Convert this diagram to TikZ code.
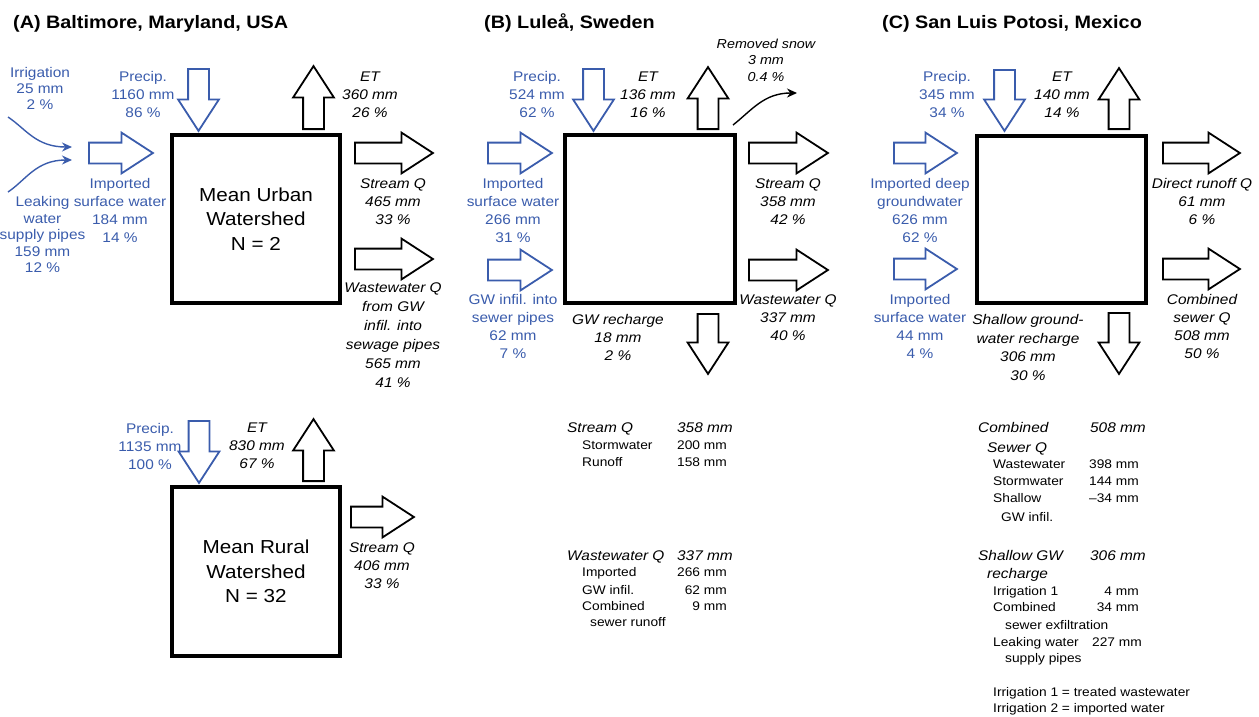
\documentclass[tikz,border=0pt]{standalone}
\usepackage{fontspec}
\setmainfont{Liberation Sans}[FakeStretch=1.1]
\usetikzlibrary{shapes.arrows,arrows.meta}
\definecolor{inblue}{RGB}{58,92,172}
\begin{document}
\begin{tikzpicture}[x=1pt,y=-1pt,
  fatarrow/.style={single arrow, draw, line width=1.8pt, inner xsep=0pt, inner ysep=9.5pt,
    single arrow head extend=10pt, anchor=tail,
    single arrow tip angle=66, line join=miter},
  inarrow/.style={fatarrow, draw=inblue},
  outarrow/.style={fatarrow, draw=black},
  downarrow/.style={shape border rotate=270, inner xsep=9.5pt, inner ysep=0pt},
  uparrow/.style={shape border rotate=90, inner xsep=9.5pt, inner ysep=0pt},
  wbox/.style={draw, line width=3.2pt, inner sep=0pt, align=center,
    font=\fontsize{18.8}{24.5}\selectfont},
  lbl/.style={align=center, inner sep=0pt, anchor=north,
    font=\fontsize{14}{18}\selectfont},
  inlbl/.style={lbl, text=inblue},
  outlbl/.style={lbl, font=\fontsize{14}{18}\selectfont\itshape},
  title/.style={inner sep=0pt, anchor=base west, font=\fontsize{18}{20}\selectfont\bfseries},
  thinarrow/.style={line width=1.4pt, -{Stealth[length=10pt,width=9pt]}},
  th/.style={inner sep=0pt, anchor=base west, font=\fontsize{14}{17}\selectfont\itshape},
  thv/.style={inner sep=0pt, anchor=base east, font=\fontsize{14}{17}\selectfont\itshape},
  tr/.style={inner sep=0pt, anchor=base west, font=\fontsize{12.5}{15}\selectfont},
  trv/.style={inner sep=0pt, anchor=base east, font=\fontsize{12.5}{15}\selectfont}
]
\useasboundingbox (0,0) rectangle (1259,716);

% ---------- titles
\node[title] (tA) at (13,28) {(A) Baltimore, Maryland, USA};
\node[title] (tB) at (484,28) {(B) Luleå, Sweden};
\node[title] (tC) at (882,28) {(C) San Luis Potosi, Mexico};

% ---------- Panel A, urban
\node[wbox, minimum width=168pt, minimum height=168pt] (urban) at (256,219) {Mean Urban\\Watershed\\N = 2};
\node[inarrow, downarrow, minimum height=62pt] (pA) at (198.5,68) {};
\node[outarrow, uparrow, minimum height=63pt] (etA) at (313.5,130) {};
\node[outarrow, minimum height=78pt] (sA) at (354,153) {};
\node[outarrow, minimum height=78pt] (wA) at (354,259) {};
\node[inarrow, minimum height=64pt] (iA) at (88,153) {};

\node[inlbl] (lpA) at (143,71.5) {Precip.\\1160 mm\\86 \%};
\node[inlbl, font=\fontsize{14}{16}\selectfont] (lirr) at (40,67.5) {Irrigation\\25 mm\\2 \%};
\node[inlbl, font=\fontsize{14}{16.5}\selectfont] (lleak) at (42.5,196.5) {Leaking\\water\\supply pipes\\159 mm\\12 \%};
\node[inlbl] (liA) at (120,178.5) {Imported\\surface water\\184 mm\\14 \%};
\node[outlbl] (letA) at (370,71.5) {ET\\360 mm\\26 \%};
\node[outlbl] (lsA) at (393,178.5) {Stream Q\\465 mm\\33 \%};
\node[outlbl, font=\fontsize{14}{19}\selectfont\itshape] (lwA) at (393,282.5) {Wastewater Q\\from GW\\infil. into\\sewage pipes\\565 mm\\41 \%};

\coordinate (irrS) at (8,117);
\coordinate (irrE) at (72,147);
\coordinate (leakS) at (8,192);
\coordinate (leakE) at (72,160);
\draw[thinarrow, inblue] (irrS) .. controls (26,129) and (36,147) .. (irrE);
\draw[thinarrow, inblue] (leakS) .. controls (26,180) and (36,160) .. (leakE);

% ---------- Panel A, rural
\node[wbox, minimum width=168pt, minimum height=169pt] (rural) at (256,571.5) {Mean Rural\\Watershed\\N = 32};
\node[inarrow, downarrow, minimum height=62pt] (pR) at (199,420) {};
\node[outarrow, uparrow, minimum height=62pt] (etR) at (313.5,482) {};
\node[outarrow, minimum height=63pt] (sR) at (350,517) {};
\node[inlbl] (lpR) at (150,423.5) {Precip.\\1135 mm\\100 \%};
\node[outlbl] (letR) at (257,422.5) {ET\\830 mm\\67 \%};
\node[outlbl] (lsR) at (382,542.5) {Stream Q\\406 mm\\33 \%};

% ---------- Panel B
\node[wbox, minimum width=170pt, minimum height=168pt] (lulea) at (650,219) {};
\node[inarrow, downarrow, minimum height=62pt] (pB) at (593.5,68) {};
\node[outarrow, uparrow, minimum height=62pt] (etB) at (708,130) {};
\node[outarrow, minimum height=79pt] (sB) at (748,153) {};
\node[outarrow, minimum height=79pt] (wB) at (748,270) {};
\node[inarrow, minimum height=64pt] (iB) at (487,153) {};
\node[inarrow, minimum height=64pt] (gB) at (487,270) {};
\node[outarrow, downarrow, minimum height=60pt] (rB) at (708,313) {};

\node[inlbl] (lpB) at (537,71.5) {Precip.\\524 mm\\62 \%};
\node[outlbl] (letB) at (648,71.5) {ET\\136 mm\\16 \%};
\node[outlbl, font=\fontsize{13}{16.5}\selectfont\itshape] (lsnow) at (766,38.5) {Removed snow\\3 mm\\0.4 \%};
\node[outlbl] (lsB) at (788,178.5) {Stream Q\\358 mm\\42 \%};
\node[outlbl] (lwB) at (788,294.5) {Wastewater Q\\337 mm\\40 \%};
\node[inlbl] (liB) at (513,178.5) {Imported\\surface water\\266 mm\\31 \%};
\node[inlbl] (lgB) at (513,294.5) {GW infil. into\\sewer pipes\\62 mm\\7 \%};
\node[outlbl] (lrB) at (618,314.5) {GW recharge\\18 mm\\2 \%};

\coordinate (snowS) at (733,125);
\coordinate (snowE) at (797,93);
\draw[thinarrow] (snowS) .. controls (752,110) and (764,93) .. (snowE);

% table B
\node[th] (b1) at (567,432) {Stream Q};
\node[thv] (b1v) at (733,432) {358 mm};
\node[tr] (b2) at (582,449.5) {Stormwater};
\node[trv] (b2v) at (727,449.5) {200 mm};
\node[tr] (b3) at (582,466.5) {Runoff};
\node[trv] (b3v) at (727,466.5) {158 mm};
\node[th] (b4) at (567,560) {Wastewater Q};
\node[thv] (b4v) at (733,560) {337 mm};
\node[tr] (b5) at (582,576.5) {Imported};
\node[trv] (b5v) at (727,576.5) {266 mm};
\node[tr] (b6) at (582,594.5) {GW infil.};
\node[trv] (b6v) at (727,594.5) {62 mm};
\node[tr] (b7) at (582,610.5) {Combined};
\node[trv] (b7v) at (727,610.5) {9 mm};
\node[tr] (b8) at (590,626.5) {sewer runoff};

% ---------- Panel C
\node[wbox, minimum width=169pt, minimum height=167pt] (slp) at (1061.5,219.5) {};
\node[inarrow, downarrow, minimum height=61pt] (pC) at (1004.5,69) {};
\node[outarrow, uparrow, minimum height=61pt] (etC) at (1119,130) {};
\node[outarrow, minimum height=77pt] (dC) at (1162,153) {};
\node[outarrow, minimum height=77pt] (cC) at (1162,269) {};
\node[inarrow, minimum height=63pt] (iC) at (893,153) {};
\node[inarrow, minimum height=63pt] (sC) at (893,269) {};
\node[outarrow, downarrow, minimum height=61pt] (rC) at (1119,312) {};

\node[inlbl] (lpC) at (947,71.5) {Precip.\\345 mm\\34 \%};
\node[outlbl] (letC) at (1062,71.5) {ET\\140 mm\\14 \%};
\node[outlbl] (ldC) at (1202,178.5) {Direct runoff Q\\61 mm\\6 \%};
\node[outlbl] (lcC) at (1202,294.5) {Combined\\sewer Q\\508 mm\\50 \%};
\node[inlbl] (liC) at (920,178.5) {Imported deep\\groundwater\\626 mm\\62 \%};
\node[inlbl] (lsC) at (920,294.5) {Imported\\surface water\\44 mm\\4 \%};
\node[outlbl, font=\fontsize{14}{18.7}\selectfont\itshape] (lrC) at (1028,314) {Shallow ground-\\water recharge\\306 mm\\30 \%};

% table C
\node[th] (c1) at (978,432) {Combined};
\node[thv] (c1v) at (1146,432) {508 mm};
\node[th] (c2) at (987,452) {Sewer Q};
\node[tr] (c3) at (993,468.5) {Wastewater};
\node[trv] (c3v) at (1139,468.5) {398 mm};
\node[tr] (c4) at (993,485) {Stormwater};
\node[trv] (c4v) at (1139,485) {144 mm};
\node[tr] (c5) at (993,502.5) {Shallow};
\node[trv] (c5v) at (1139,502.5) {–34 mm};
\node[tr] (c6) at (1001,521) {GW infil.};
\node[th] (c7) at (978,560) {Shallow GW};
\node[thv] (c7v) at (1146,560) {306 mm};
\node[th] (c8) at (987,578) {recharge};
\node[tr] (c9) at (993,595.5) {Irrigation 1};
\node[trv] (c9v) at (1139,595.5) {4 mm};
\node[tr] (c10) at (993,611.5) {Combined};
\node[trv] (c10v) at (1139,611.5) {34 mm};
\node[tr] (c11) at (1005,629.5) {sewer exfiltration};
\node[tr] (c12) at (993,646) {Leaking water};
\node[trv] (c12v) at (1142,646) {227 mm};
\node[tr] (c13) at (1005,662.5) {supply pipes};
\node[tr] (c14) at (993,696) {Irrigation 1 = treated wastewater};
\node[tr] (c15) at (993,712.5) {Irrigation 2 = imported water};
\end{tikzpicture}
\end{document}
